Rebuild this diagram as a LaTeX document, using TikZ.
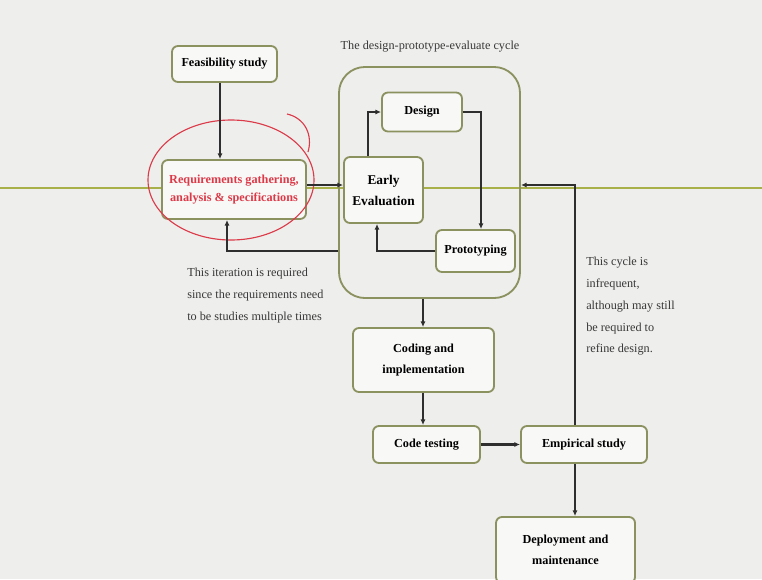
\documentclass[tikz,border=0pt]{standalone}
\usepackage{xcolor}
\usepackage{fontspec}
\setmainfont{Liberation Serif}
\usetikzlibrary{arrows.meta}
\definecolor{BG}{HTML}{EEEEEC}
\definecolor{BOXLINE}{HTML}{8C9160}
\definecolor{GUIDE}{HTML}{A8B04A}
\definecolor{MARK}{HTML}{DC3A48}
\definecolor{ARR}{HTML}{2E2E2E}
\tikzset{%
  box/.style={draw=BOXLINE, line width=1.3pt, rounded corners=0.15cm, fill=white!60!BG, align=center, font=\fontsize{8.7}{15}\selectfont\bfseries},%
  arr/.style={draw=ARR, line width=1.15pt, -{Latex[length=4pt,width=3.5pt]}},%
  note/.style={align=left, text=black!78, font=\fontsize{8.7}{15.5}\selectfont, inner sep=0pt}%
}

\begin{document}
\begin{tikzpicture}[x=0.025cm, y=-0.025cm]%
\useasboundingbox (0,0) rectangle (762,579);%
\fill[BG] (0,0) rectangle (762,579);%
\draw[GUIDE, line width=1.1pt] (0,188) -- (762,188);%
% outer cycle
\node[box, rounded corners=0.65cm, fill=none, minimum width=4.525cm, minimum height=5.775cm] (cycle) at (429.5,182.5) {};%
\node[font=\fontsize{8.7}{10}\selectfont, text=black!78] (cycletitle) at (430,47) {The design-prototype-evaluate cycle};%
% boxes
\node[box, minimum width=2.625cm, minimum height=0.9cm] (feas) at (224.5,64) {Feasibility study};%
\node[box, text=MARK, font=\fontsize{8.7}{13}\selectfont\bfseries, minimum width=3.6cm, minimum height=1.475cm] (req) at (234,189.5) {Requirements gathering,\\analysis \& specifications};%
\node[box, minimum width=2.0cm, minimum height=0.975cm] (design) at (422,112) {Design};%
\node[box, minimum width=1.975cm, minimum height=1.65cm, font=\fontsize{9.5}{15}\selectfont\bfseries] (early) at (383.5,190) {Early\\Evaluation};%
\node[box, minimum width=1.975cm, minimum height=1.05cm] (proto) at (475.5,251) {Prototyping};%
\node[box, minimum width=3.525cm, minimum height=1.6cm] (coding) at (423.5,360) {Coding and\\implementation};%
\node[box, minimum width=2.675cm, minimum height=0.925cm] (testing) at (426.5,444.5) {Code testing};%
\node[box, minimum width=3.15cm, minimum height=0.925cm] (empirical) at (584,444.5) {Empirical study};%
\node[box, minimum width=3.475cm, minimum height=1.65cm] (deploy) at (565.5,550) {Deployment and\\maintenance};%
% red mark
\draw[MARK, line width=0.8pt] (231,180) ellipse [x radius=83, y radius=60];%
\draw[MARK, line width=0.8pt] (287,114) .. controls (305,118) and (313,135) .. (308,152);%
% connectors
\draw[arr] (220,0 |- feas.south) -- (220,0 |- req.north);%
\draw[arr] (req.east |- 0,185) -- (early.west |- 0,185);%
\draw[arr] (368,0 |- early.north) |- (design.west);%
\draw[arr] (design.east) -| (481,0 |- proto.north);%
\draw[arr] (proto.west) -| (377,0 |- early.south);%
\draw[arr] (cycle.west |- proto.west) -| (227,0 |- req.south);%
\draw[arr] (423,0 |- cycle.south) -- (423,0 |- coding.north);%
\draw[arr] (423,0 |- coding.south) -- (423,0 |- testing.north);%
\draw[arr, line width=1.5pt] (testing.east) -- (empirical.west);%
\draw[arr] (575,0 |- empirical.south) -- (575,0 |- deploy.north);%
\draw[arr] (575,0 |- empirical.north) |- (cycle.east |- 0,185);%
% notes
\node[note, anchor=north west] (iternote) at (187,268) {This iteration is required\\since the requirements need\\to be studies multiple times};%
\node[note, anchor=north west] (cyclenote) at (586,257) {This cycle is\\infrequent,\\although may still\\be required to\\refine design.};%
\end{tikzpicture}
\end{document}
